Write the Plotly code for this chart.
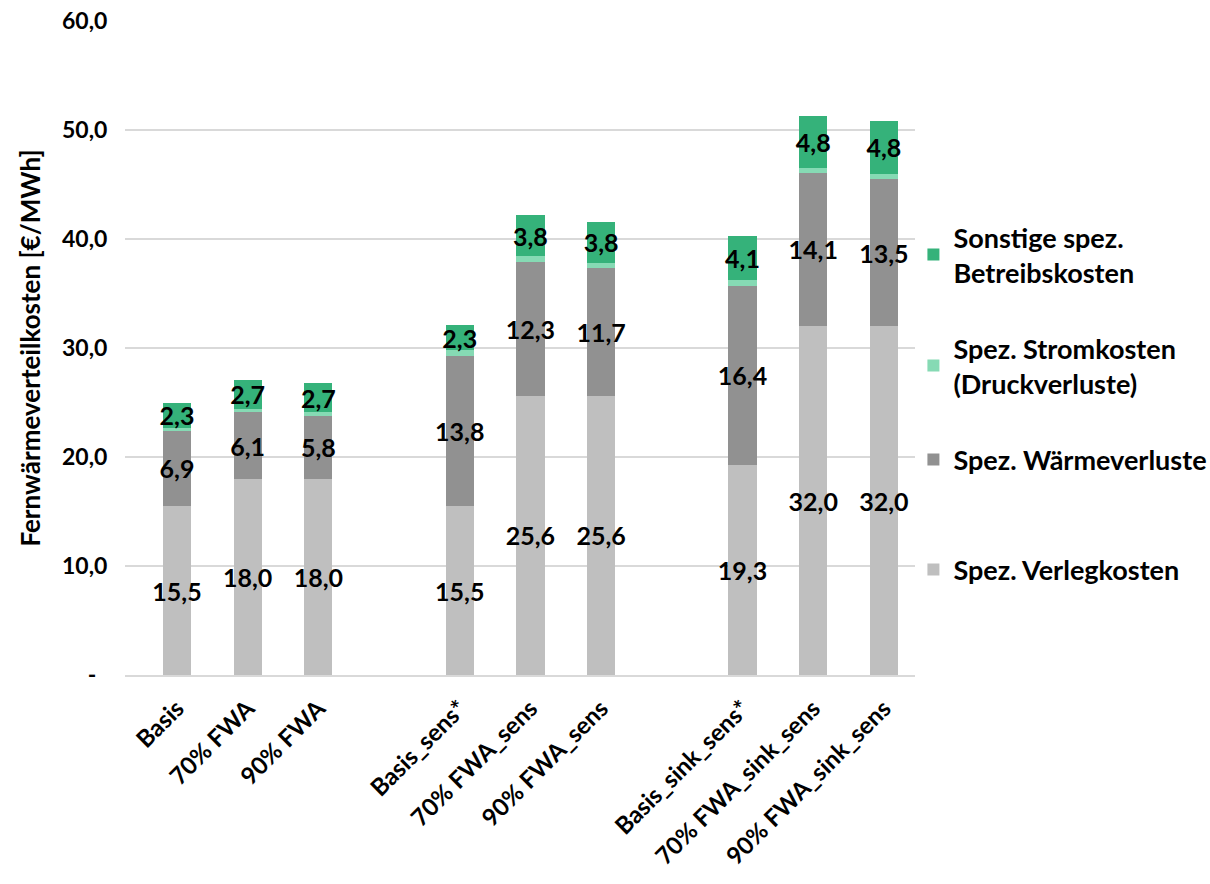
import plotly.graph_objects as go

categories = ["Basis", "70% FWA", "90% FWA", " ",
              "Basis_sens*", "70% FWA_sens", "90% FWA_sens", "  ",
              "Basis_sink_sens*", "70% FWA_sink_sens", "90% FWA_sink_sens"]

verlegkosten = [15.5, 18.0, 18.0, None, 15.5, 25.6, 25.6, None, 19.3, 32.0, 32.0]
waermeverluste = [6.9, 6.1, 5.8, None, 13.8, 12.3, 11.7, None, 16.4, 14.1, 13.5]
stromkosten = [0.3, 0.3, 0.3, None, 0.5, 0.5, 0.5, None, 0.5, 0.4, 0.5]
sonstige = [2.3, 2.7, 2.7, None, 2.3, 3.8, 3.8, None, 4.1, 4.8, 4.8]

series = [
    ("Spez. Verlegkosten", verlegkosten, "#BFBFBF", True, "legend4"),
    ("Spez. Wärmeverluste", waermeverluste, "#919191", True, "legend3"),
    ("Spez. Stromkosten<br>(Druckverluste)", stromkosten, "#86DAB4", False, "legend2"),
    ("Sonstige spez.<br>Betreibskosten", sonstige, "#35B27A", True, "legend"),
]

FONT = "Lato"

def fmt(v):
    return "" if v is None else f"{v:.1f}".replace(".", ",")

fig = go.Figure()
for name, vals, color, labeled, leg in series:
    fig.add_trace(go.Bar(
        name=name, x=categories, y=vals,
        marker=dict(color=color, line=dict(width=0)),
        width=0.4,
        text=[fmt(v) for v in vals] if labeled else None,
        textposition="inside" if labeled else "none",
        insidetextanchor="middle",
        textangle=0,
        constraintext="none",
        textfont=dict(family=FONT, size=25, color="black", weight="bold"),
        legend=leg,
        showlegend=True,
        cliponaxis=False,
    ))

yticks = [0, 10, 20, 30, 40, 50, 60]
yticktext = ["-\u00a0\u00a0"] + [fmt(float(v)) for v in yticks[1:]]

legend_common = dict(
    font=dict(family=FONT, size=27, color="black", weight="bold"),
    bgcolor="rgba(0,0,0,0)", xanchor="left", yanchor="middle",
    itemwidth=30, x=0.998, visible=True,
)

fig.update_layout(
    barmode="stack",
    showlegend=True,
    width=1210, height=884,
    margin=dict(l=125, r=295, t=21, b=209, autoexpand=False),
    paper_bgcolor="white", plot_bgcolor="white",
    font=dict(family=FONT, color="black"),
    xaxis=dict(
        type="category", categoryorder="array", categoryarray=categories,
        range=[-0.735, 10.44],
        tickangle=-45,
        tickfont=dict(family=FONT, size=24, color="black", weight="bold"),
        showline=True, linecolor="#D9D9D9", linewidth=2,
        ticks="outside", ticklen=8, tickcolor="rgba(0,0,0,0)", showgrid=False,
    ),
    yaxis=dict(
        range=[0, 60], tickvals=yticks, ticktext=yticktext,
        tickfont=dict(family=FONT, size=23, color="black", weight="bold"),
        showgrid=True, gridcolor="#D9D9D9", gridwidth=2,
        zeroline=False, showline=False,
        ticks="outside", ticklen=12, tickcolor="rgba(0,0,0,0)",
        title=dict(text="Fernwärmeverteilkosten [€/MWh]",
                   font=dict(family=FONT, size=26, color="black", weight="bold"),
                   standoff=13),
    ),
    legend=dict(y=1 - (255 - 21) / 654, **legend_common),
    legend2=dict(y=1 - (366 - 21) / 654, **legend_common),
    legend3=dict(y=1 - (460 - 21) / 654, **legend_common),
    legend4=dict(y=1 - (570 - 21) / 654, **legend_common),
)

fig.write_html("out.html")
